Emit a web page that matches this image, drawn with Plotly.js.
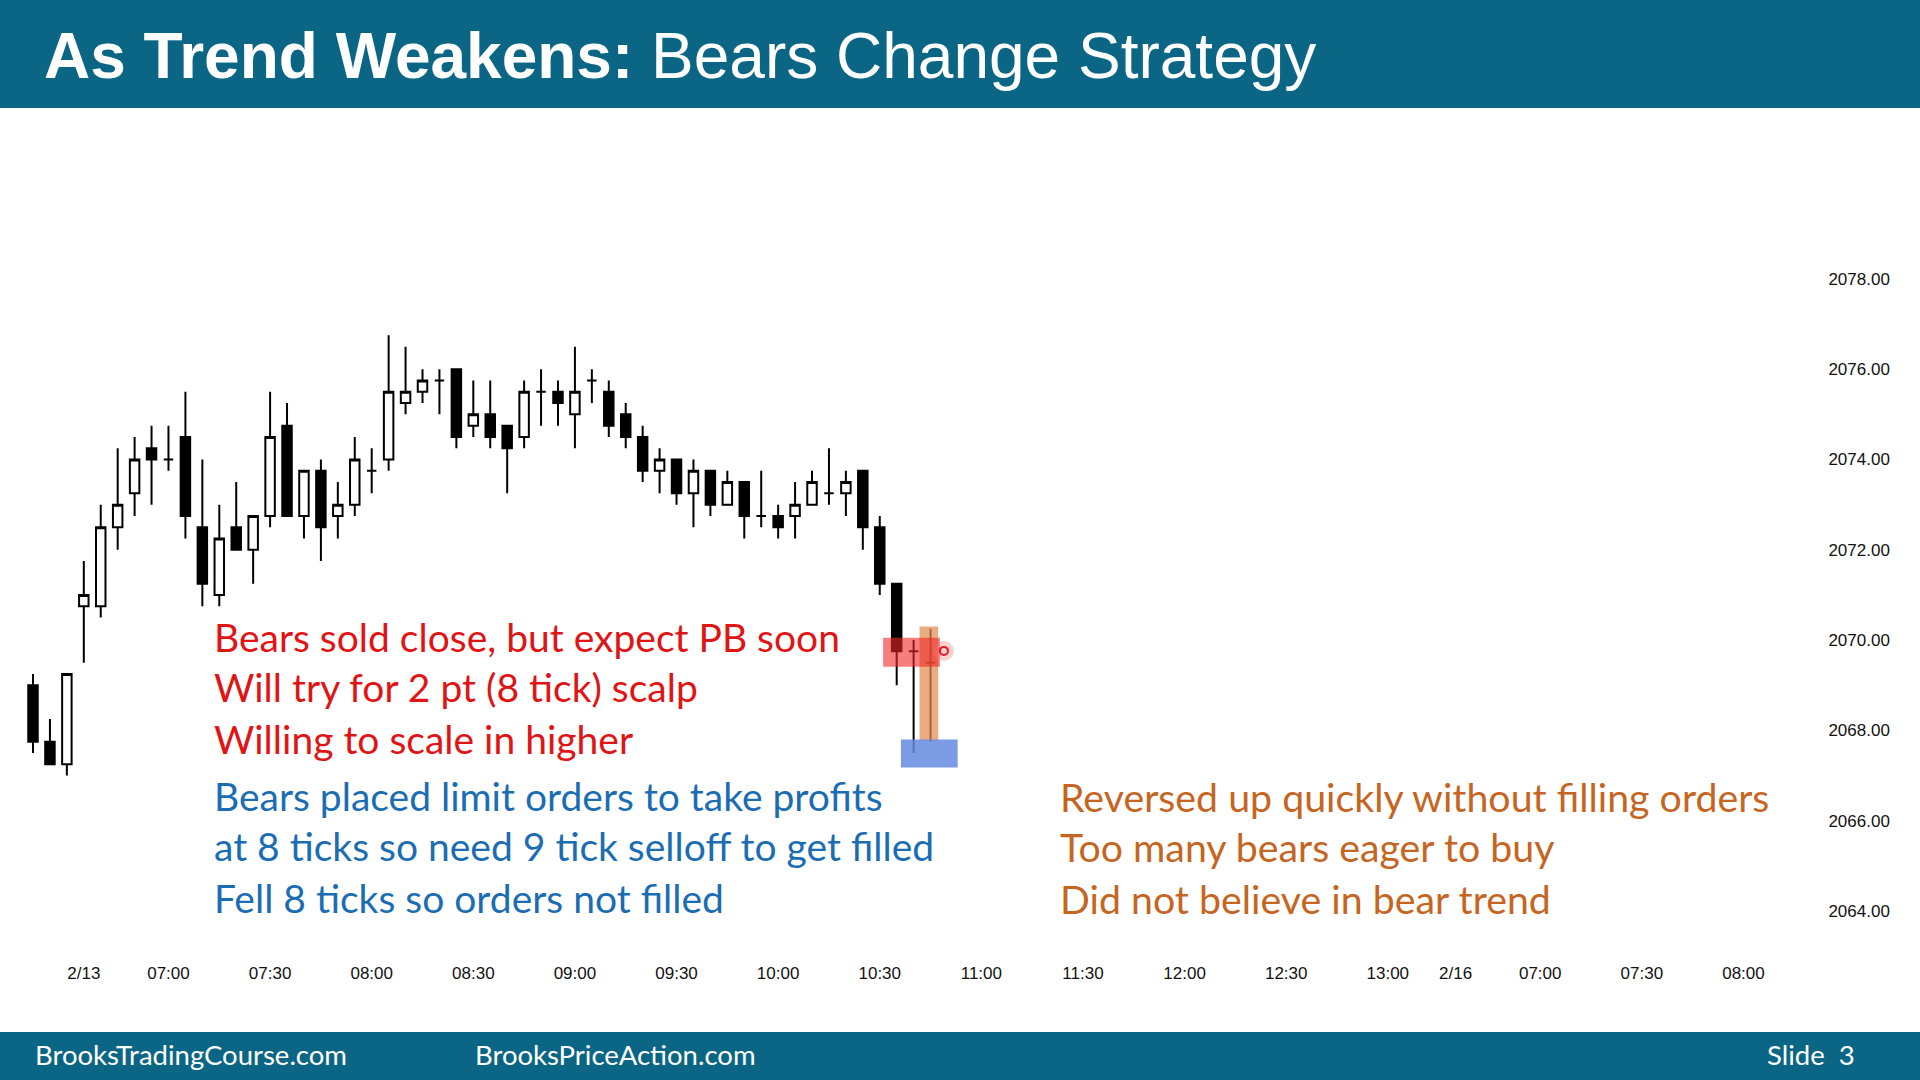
<!DOCTYPE html>
<html>
<head>
<meta charset="utf-8">
<script src="https://cdn.plot.ly/plotly-3.0.1.min.js"></script>
<style>
  html, body { margin: 0; padding: 0; background: #ffffff; }
  #chart { width: 1920px; height: 1080px; }
</style>
</head>
<body>
<div id="chart"></div>
<script>
// ---- Data (5-minute bars) ----
const barTimes = [
  '2/12 13:05','2/12 13:10','2/12 13:15',
  '2/13 06:35','2/13 06:40','2/13 06:45','2/13 06:50','2/13 06:55','2/13 07:00',
  '2/13 07:05','2/13 07:10','2/13 07:15','2/13 07:20','2/13 07:25','2/13 07:30',
  '2/13 07:35','2/13 07:40','2/13 07:45','2/13 07:50','2/13 07:55','2/13 08:00',
  '2/13 08:05','2/13 08:10','2/13 08:15','2/13 08:20','2/13 08:25','2/13 08:30',
  '2/13 08:35','2/13 08:40','2/13 08:45','2/13 08:50','2/13 08:55','2/13 09:00',
  '2/13 09:05','2/13 09:10','2/13 09:15','2/13 09:20','2/13 09:25','2/13 09:30',
  '2/13 09:35','2/13 09:40','2/13 09:45','2/13 09:50','2/13 09:55','2/13 10:00',
  '2/13 10:05','2/13 10:10','2/13 10:15','2/13 10:20','2/13 10:25','2/13 10:30',
  '2/13 10:35','2/13 10:40','2/13 10:45'
];
const openP = [
  2069.00, 2067.75, 2067.25,
  2070.75, 2070.75, 2072.50, 2073.25, 2074.25, 2074.00,
  2074.50, 2072.50, 2071.00, 2072.50, 2072.00, 2072.75,
  2074.75, 2072.75, 2073.75, 2072.75, 2073.00, 2073.75,
  2074.00, 2075.25, 2075.50, 2075.75, 2076.00, 2074.75,
  2075.00, 2074.75, 2074.50, 2075.50, 2075.50, 2075.00,
  2075.75, 2075.50, 2075.00, 2074.50, 2073.75, 2074.00,
  2073.25, 2073.75, 2073.00, 2073.50, 2072.75, 2072.75,
  2072.75, 2073.00, 2073.25, 2073.25, 2073.75, 2072.50,
  2071.25, 2069.75, 2069.50
];
const highP = [
  2069.25, 2068.25, 2069.25,
  2071.75, 2073.00, 2074.25, 2074.50, 2074.75, 2074.75,
  2075.50, 2074.00, 2073.00, 2073.50, 2072.75, 2075.50,
  2075.25, 2073.75, 2074.00, 2073.50, 2074.50, 2074.25,
  2076.75, 2076.50, 2076.00, 2076.00, 2076.00, 2075.75,
  2075.75, 2074.75, 2075.75, 2076.00, 2075.75, 2076.50,
  2076.00, 2075.75, 2075.25, 2074.75, 2074.25, 2074.00,
  2074.00, 2073.75, 2073.75, 2073.50, 2073.75, 2073.00,
  2073.50, 2073.75, 2074.25, 2073.75, 2073.75, 2072.75,
  2071.25, 2070.00, 2070.25
];
const lowP = [
  2067.50, 2067.25, 2067.00,
  2069.50, 2070.50, 2072.00, 2072.75, 2073.00, 2073.75,
  2072.25, 2070.75, 2070.75, 2072.00, 2071.25, 2072.50,
  2072.75, 2072.25, 2071.75, 2072.25, 2072.75, 2073.25,
  2073.75, 2075.00, 2075.25, 2075.00, 2074.25, 2074.50,
  2074.25, 2073.25, 2074.25, 2074.75, 2074.75, 2074.25,
  2075.25, 2074.50, 2074.25, 2073.50, 2073.25, 2073.00,
  2072.50, 2072.75, 2073.00, 2072.25, 2072.50, 2072.25,
  2072.25, 2073.00, 2073.00, 2072.75, 2072.00, 2071.00,
  2069.00, 2067.50, 2067.75
];
const closeP = [
  2067.75, 2067.25, 2069.25,
  2071.00, 2072.50, 2073.00, 2074.00, 2074.00, 2074.00,
  2072.75, 2071.25, 2072.25, 2072.00, 2072.75, 2074.50,
  2072.75, 2073.75, 2072.50, 2073.00, 2074.00, 2073.75,
  2075.50, 2075.50, 2075.75, 2075.75, 2074.50, 2075.00,
  2074.50, 2074.25, 2075.50, 2075.50, 2075.25, 2075.50,
  2075.75, 2074.75, 2074.50, 2073.75, 2074.00, 2073.25,
  2073.75, 2073.00, 2073.50, 2072.75, 2072.75, 2072.50,
  2073.00, 2073.50, 2073.25, 2073.50, 2072.50, 2071.25,
  2069.75, 2069.75, 2069.50
];
const tickTimes = ['2/13 06:35','2/13 07:00','2/13 07:30','2/13 08:00','2/13 08:30','2/13 09:00',
  '2/13 09:30','2/13 10:00','2/13 10:30','2/13 11:00','2/13 11:30','2/13 12:00','2/13 12:30',
  '2/13 13:00','2/16 06:35','2/16 07:00','2/16 07:30','2/16 08:00'];
const tickLabels = ['2/13','07:00','07:30','08:00','08:30','09:00','09:30','10:00','10:30',
  '11:00','11:30','12:00','12:30','13:00','2/16','07:00','07:30','08:00'];
const priceTicks = [2064, 2066, 2068, 2070, 2072, 2074, 2076, 2078];

const redNotes = ['Bears sold close, but expect PB soon', 'Will try for 2 pt (8 tick) scalp', 'Willing to scale in higher'];
const blueNotes = ['Bears placed limit orders to take profits', 'at 8 ticks so need 9 tick selloff to get filled', 'Fell 8 ticks so orders not filled'];
const orangeNotes = ['Reversed up quickly without filling orders', 'Too many bears eager to buy', 'Did not believe in bear trend'];

// ---- session slot index (bars with no gaps between sessions) ----
const sessions = { '2/12': { first: 13 * 60 + 5, base: 0 }, '2/13': { first: 6 * 60 + 35, base: 3 }, '2/16': { first: 6 * 60 + 35, base: 84 } };
function slot(label) {
  const [d, t] = label.split(' ');
  const [h, m] = t.split(':').map(Number);
  const s = sessions[d];
  return s.base + ((h * 60 + m) - s.first) / 5;
}
const xs = barTimes.map(slot);
const tickVals = tickTimes.map(slot);

// ---- layout geometry ----
const W = 1920, H = 1080, ML = 0, MR = 100, MT = 120, MB = 130;
const PW = W - ML - MR, PH = H - MT - MB;
const px = x => (x - ML) / PW;
const py = y => (H - MB - y) / PH;

const HEADER = '#0b6685';
const calib = 'Lato, "Open Sans", sans-serif';

const annotations = [];
annotations.push({ xref: 'paper', yref: 'paper', x: px(41.5), y: py(56), xanchor: 'left', yanchor: 'middle',
  text: '<b>As Trend Weakens:</b> Bears Change Strategy', showarrow: false,
  font: { family: '"Liberation Sans", Arial, sans-serif', size: 64, color: '#ffffff' } });

const lineYsTop = [637, 687, 739];
const lineYsBot = [796, 846, 898];
redNotes.forEach((t, k) => annotations.push({ xref: 'paper', yref: 'paper', x: px(211.5), y: py(lineYsTop[k]),
  xanchor: 'left', yanchor: 'middle', text: t, showarrow: false, font: { family: calib, size: 39, color: '#e01414' } }));
blueNotes.forEach((t, k) => annotations.push({ xref: 'paper', yref: 'paper', x: px(211.5), y: py(lineYsBot[k]),
  xanchor: 'left', yanchor: 'middle', text: t, showarrow: false, font: { family: calib, size: 39, color: '#1b6db3' } }));
orangeNotes.forEach((t, k) => annotations.push({ xref: 'paper', yref: 'paper', x: px(1057.5), y: py(lineYsBot[k]),
  xanchor: 'left', yanchor: 'middle', text: t, showarrow: false, font: { family: calib, size: 39.3, color: '#c6651f' } }));

const footFont = { family: calib, size: 27.5, color: '#ffffff' };
annotations.push({ xref: 'paper', yref: 'paper', x: px(33), y: py(1054), xanchor: 'left', yanchor: 'middle',
  text: 'BrooksTradingCourse.com', showarrow: false, font: footFont });
annotations.push({ xref: 'paper', yref: 'paper', x: px(472.5), y: py(1054), xanchor: 'left', yanchor: 'middle',
  text: 'BrooksPriceAction.com', showarrow: false, font: footFont });
annotations.push({ xref: 'paper', yref: 'paper', x: px(1764.5), y: py(1054), xanchor: 'left', yanchor: 'middle',
  text: 'Slide\u00a0 3', showarrow: false, font: footFont });

const shapes = [
  { type: 'rect', xref: 'paper', yref: 'paper', x0: px(0), x1: px(W), y0: py(0), y1: py(108), fillcolor: HEADER, line: { width: 0 }, layer: 'below' },
  { type: 'rect', xref: 'paper', yref: 'paper', x0: px(0), x1: px(W), y0: py(1032), y1: py(H), fillcolor: HEADER, line: { width: 0 }, layer: 'below' },
  // highlight boxes around the last bars
  { type: 'rect', xref: 'x', yref: 'y', x0: 52.35, x1: 53.45, y0: 2067.77, y1: 2070.3, fillcolor: 'rgba(226,140,80,0.72)', line: { width: 0 }, layer: 'above' },
  { type: 'rect', xref: 'x', yref: 'y', x0: 50.2, x1: 53.55, y0: 2069.41, y1: 2070.05, fillcolor: 'rgba(240,40,40,0.6)', line: { width: 0 }, layer: 'above' },
  { type: 'rect', xref: 'x', yref: 'y', x0: 51.25, x1: 54.6, y0: 2067.18, y1: 2067.8, fillcolor: 'rgba(100,138,225,0.85)', line: { width: 0 }, layer: 'above' },
  { type: 'circle', xref: 'x', yref: 'y', xsizemode: 'pixel', ysizemode: 'pixel', xanchor: 53.79, yanchor: 2069.76,
    x0: -10, x1: 10, y0: -10, y1: 10, fillcolor: 'rgba(255,120,120,0.35)', line: { width: 0 }, layer: 'above' },
  { type: 'circle', xref: 'x', yref: 'y', xsizemode: 'pixel', ysizemode: 'pixel', xanchor: 53.79, yanchor: 2069.76,
    x0: -4, x1: 4, y0: -4, y1: 4, fillcolor: '#ffd0d0', line: { width: 2, color: '#e8141e' }, layer: 'above' }
];

const trace = {
  type: 'candlestick', x: xs, open: openP, high: highP, low: lowP, close: closeP,
  increasing: { line: { color: '#000000', width: 2 }, fillcolor: '#ffffff' },
  decreasing: { line: { color: '#000000', width: 2 }, fillcolor: '#000000' },
  whiskerwidth: 0, hoverinfo: 'skip', showlegend: false
};

const layout = {
  width: W, height: H,
  margin: { l: ML, r: MR, t: MT, b: MB, pad: 0 },
  paper_bgcolor: '#ffffff', plot_bgcolor: '#ffffff',
  boxgap: 0.2,
  showlegend: false,
  xaxis: {
    type: 'linear', range: [(ML - 33) / 16.935, (ML + PW - 33) / 16.935],
    rangeslider: { visible: false }, showgrid: false, zeroline: false, showline: false,
    tickmode: 'array', tickvals: tickVals, ticktext: tickLabels,
    ticks: 'outside', ticklen: 8, tickcolor: 'rgba(0,0,0,0)',
    tickfont: { family: '"Liberation Sans", Arial, sans-serif', size: 17, color: '#111111' }
  },
  yaxis: {
    side: 'right', range: [2063.135, 2081.52], showgrid: false, zeroline: false, showline: false,
    tickmode: 'array', tickvals: priceTicks, tickformat: '.2f',
    ticks: 'outside', ticklen: 4, tickcolor: 'rgba(0,0,0,0)',
    tickfont: { family: '"Liberation Sans", Arial, sans-serif', size: 17, color: '#111111' }
  },
  shapes: shapes,
  annotations: annotations
};

Plotly.newPlot('chart', [trace], layout, { displayModeBar: false, staticPlot: true });
</script>
</body>
</html>
